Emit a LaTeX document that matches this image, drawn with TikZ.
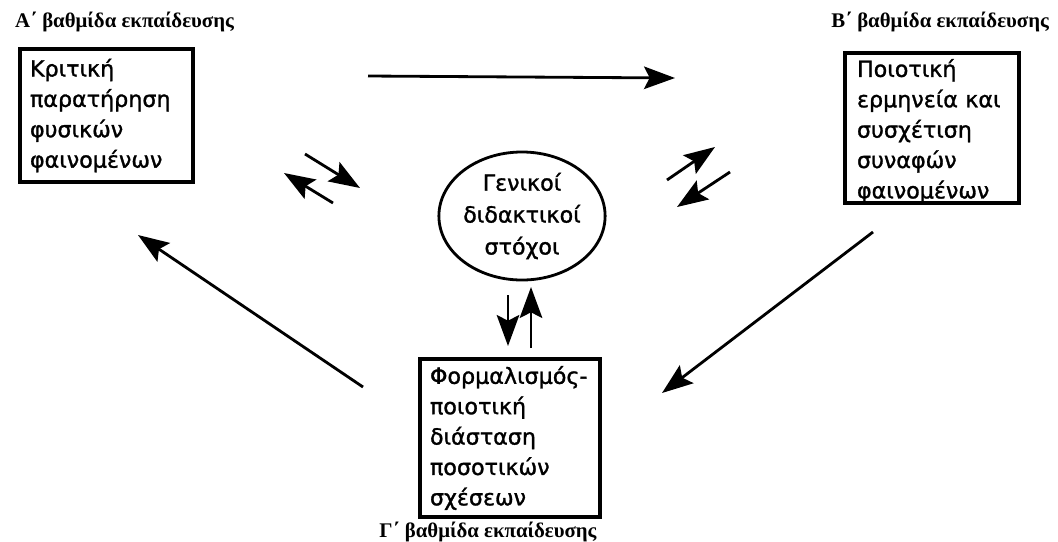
\documentclass[tikz,border=0pt]{standalone}
\usepackage{fontspec}
\setmainfont{Liberation Serif}
\newfontfamily\boxfont[FakeBold=1.3]{DejaVu Sans}
\usetikzlibrary{arrows.meta,shapes.geometric}

\begin{document}
\begin{tikzpicture}[x=0.025cm,y=-0.025cm,>={Stealth[length=22pt,width=16pt,inset=4pt]},line width=2pt,
  level/.style={font=\fontsize{14.8}{16}\selectfont\bfseries},
  stage/.style={rectangle,draw,line width=2.4pt,inner xsep=0.25cm,inner ysep=0pt,align=left,font=\boxfont\fontsize{15.8}{21.6}\selectfont},
  goal/.style={ellipse,draw,line width=2pt,inner sep=0pt,align=center,minimum width=3.55cm,minimum height=3.2cm,font=\boxfont\fontsize{15.8}{22.7}\selectfont}]

                \useasboundingbox (0,0) rectangle (1058,541);

                % levels
                \node[level, anchor=west] (levA) at (9,22) {Α΄ βαθμίδα εκπαίδευσης};
                \node[level, anchor=east] (levB) at (1055,22) {Β΄ βαθμίδα εκπαίδευσης};
                \node[level] (levC) at (488,532) {Γ΄ βαθμίδα εκπαίδευσης};

                % stages
                \node[stage, text width=3.825cm, minimum width=4.325cm, minimum height=3.325cm] (A) at (106.5,115.5) {Κριτική\\παρατήρηση\\φυσικών\\φαινομένων};
                \node[stage, text width=3.75cm, text height=17pt, minimum width=4.35cm, minimum height=3.625cm] (B) at (932,128) {Ποιοτική\\ερμηνεία και\\συσχέτιση\\συναφών\\φαινομένων};
                \node[stage, text width=4.0cm, minimum width=4.5cm, minimum height=3.95cm] (C) at (510,438) {Φορμαλισμός-\\ποιοτική\\διάσταση\\ποσοτικών\\σχέσεων};
                \node[goal] (G) at (522,216) {Γενικοί\\διδακτικοί\\στόχοι};

                \coordinate (ab1) at (368,76);  \coordinate (ab2) at (675,78);
                \coordinate (ag1) at (305,154); \coordinate (ag2) at (360,188);
                \coordinate (ga1) at (333,203); \coordinate (ga2) at (284,173);
                \coordinate (bg1) at (730,172); \coordinate (bg2) at (677,207);
                \coordinate (gb1) at (667,180); \coordinate (gb2) at (715,147);
                \coordinate (bc1) at (873,232); \coordinate (bc2) at (662,393);
                \coordinate (ca1) at (363,387); \coordinate (ca2) at (138,235);
                \coordinate (gc1) at (508,295); \coordinate (gc2) at (508,346);
                \coordinate (cg1) at (531,348); \coordinate (cg2) at (531,287);

                \draw[->] (ab1) to (ab2);
                \draw[->] (ag1) to (ag2);
                \draw[->] (ga1) to (ga2);
                \draw[->] (bg1) to (bg2);
                \draw[->] (gb1) to (gb2);
                \draw[->] (bc1) to (bc2);
                \draw[->] (ca1) to (ca2);
                \draw[->] (gc1) to (gc2);
                \draw[->] (cg1) to (cg2);

                ;
            \end{tikzpicture}
\end{document}
